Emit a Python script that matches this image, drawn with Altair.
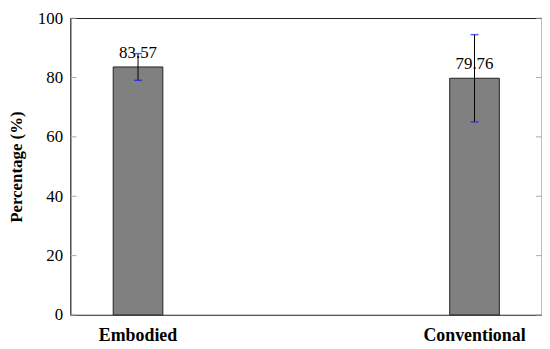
import altair as alt
import pandas as pd

categories = ["Embodied", "Conventional"]
values = [83.57, 79.76]
err_low = [79.07, 65.06]
err_high = [88.07, 94.46]
labels = ["83.57", "79.76"]
y_ticks = [0, 20, 40, 60, 80, 100]

df = pd.DataFrame({"cat": categories, "val": values, "lo": err_low, "hi": err_high, "lab": labels})
tick_df = pd.DataFrame({"t": y_ticks})

FONT = "Liberation Serif"
W, H = 475, 299

x = alt.X("cat:N", sort=categories,
          scale=alt.Scale(paddingInner=0.85, paddingOuter=0.1256),
          axis=alt.Axis(title=None, labelAngle=0, ticks=False, domain=False,
                        labelFont=FONT, labelFontSize=18, labelFontWeight="bold",
                        labelColor="black", labelPadding=12))
yscale = alt.Scale(domain=[0, 100], nice=False)

base = alt.Chart(df)

bars = base.mark_bar(color="#808080", stroke="#222222", strokeWidth=1, size=50).encode(
    x=x,
    y=alt.Y("val:Q", scale=yscale,
            axis=alt.Axis(title="Percentage (%)", values=y_ticks, grid=False, ticks=False,
                          domain=False, labelFont=FONT, labelFontSize=17, labelColor="black",
                          labelPadding=8, titleFont=FONT, titleFontSize=17,
                          titleFontWeight="bold", titleColor="black", titlePadding=12)),
)

err = base.mark_rule(color="black", strokeWidth=1).encode(
    x=alt.X("cat:N", sort=categories), y=alt.Y("lo:Q", scale=yscale), y2="hi:Q")
cap_lo = base.mark_tick(color="#1a1aff", thickness=1.5, size=8, orient="horizontal").encode(
    x=alt.X("cat:N", sort=categories), y=alt.Y("lo:Q", scale=yscale))
cap_hi = base.mark_tick(color="#1a1aff", thickness=1.5, size=8, orient="horizontal").encode(
    x=alt.X("cat:N", sort=categories), y=alt.Y("hi:Q", scale=yscale))

text = base.mark_text(font=FONT, fontSize=17, color="black", baseline="bottom", dy=-5).encode(
    x=alt.X("cat:N", sort=categories), y=alt.Y("val:Q", scale=yscale), text="lab:N")

ticks_l = alt.Chart(tick_df).mark_rule(color="#aaaaaa", strokeWidth=1).encode(
    y=alt.Y("t:Q", scale=yscale), x=alt.value(0), x2=alt.value(6))
ticks_r = alt.Chart(tick_df).mark_rule(color="#aaaaaa", strokeWidth=1).encode(
    y=alt.Y("t:Q", scale=yscale), x=alt.value(W - 6), x2=alt.value(W))

chart = alt.layer(ticks_l, ticks_r, bars, err, cap_lo, cap_hi, text).properties(
    width=W, height=H,
    autosize=alt.AutoSizeParams(type="none"),
    padding={"left": 63, "top": 9, "right": 0, "bottom": 31},
).configure_view(stroke="#222222", strokeWidth=1.2)

chart.save("out.html", embed_options={"renderer": "svg", "actions": False})
